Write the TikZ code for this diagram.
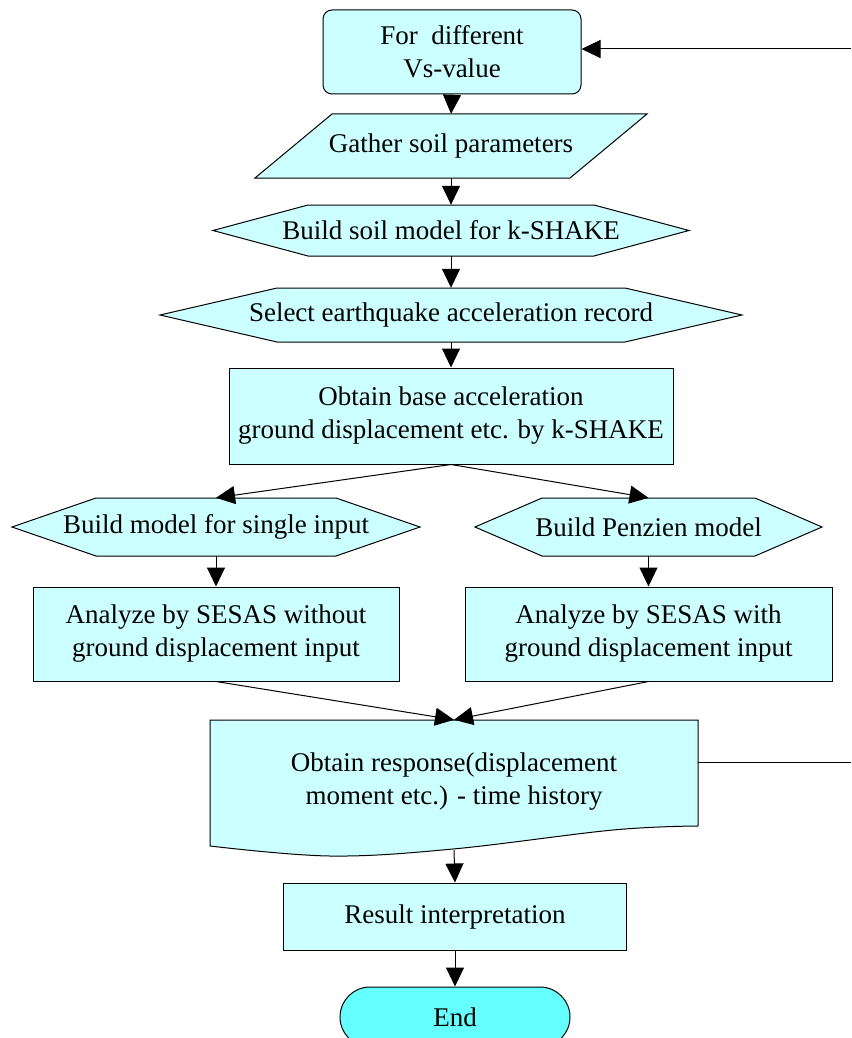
\documentclass[tikz,border=0pt]{standalone}
\usepackage{fontspec}
\setmainfont{Liberation Serif}
\usetikzlibrary{arrows.meta,calc}
\definecolor{boxfill}{RGB}{204,255,255}
\definecolor{endfill}{RGB}{102,255,255}
\tikzset{
  flow/.style={draw=black, line width=1pt, fill=boxfill},
  txt/.style={font=\fontsize{27}{33}\selectfont, align=center, inner sep=0pt},
  conn/.style={line width=1pt, -{Triangle[length=19pt,width=18pt]}},
  plain/.style={line width=1pt},
  frame/.style={draw=none, fill=none, inner sep=0pt}
}
\begin{document}
\begin{tikzpicture}[x=1pt,y=-1pt]
\useasboundingbox (0,0) rectangle (851,1038);

% start box
\node[flow, txt, rounded corners=9pt, minimum width=258pt, minimum height=84pt] (start) at (452,52) {For\ \ different\\Vs-value};

% parallelogram
\draw[flow] (332,114) -- (647,114) -- (570,178) -- (255,178) -- cycle;
\node[frame, txt, minimum width=300pt, minimum height=64pt] (gather) at (451,146) {Gather soil parameters};

% hexagon 1
\draw[flow] (213,230.5) -- (308,205) -- (594,205) -- (689,230.5) -- (594,256) -- (308,256) -- cycle;
\node[frame, txt, minimum width=470pt, minimum height=51pt] (soil) at (451,230.5) {Build soil model for k-SHAKE};

% hexagon 2
\draw[flow] (160,315) -- (277,288) -- (625,288) -- (742,315) -- (625,342) -- (277,342) -- cycle;
\node[frame, txt, minimum width=580pt, minimum height=54pt] (quake) at (451,315) {Select earthquake acceleration record};

% base acceleration box
\node[flow, txt, minimum width=444pt, minimum height=96pt] (base) at (451,416) {Obtain base acceleration\\ground displacement etc. by k-SHAKE};

% left hexagon
\draw[flow] (12,527) -- (96,498) -- (336,498) -- (420,527) -- (336,556) -- (96,556) -- cycle;
\node[frame, txt, minimum width=400pt, minimum height=58pt] (single) at (216,527) {Build model for single input};

% right hexagon
\draw[flow] (475,527) -- (542,498) -- (755,498) -- (822,527) -- (755,556) -- (542,556) -- cycle;
\node[frame, txt, minimum width=340pt, minimum height=58pt] (penzien) at (648.5,527) {Build Penzien model};

% analyze boxes
\node[flow, txt, minimum width=366pt, minimum height=94pt] (without) at (216,634) {Analyze by SESAS without\\ground displacement input};
\node[flow, txt, minimum width=367pt, minimum height=94pt] (with) at (648.5,634) {Analyze by SESAS with\\ground displacement input};

% document shape
\draw[flow] (698,826) -- (698,720) -- (210,720) -- (210,846)
  plot[smooth, tension=0.6] coordinates {(210,846) (330,856) (453,849) (613,830) (698,826)};
\node[frame, minimum width=488pt, minimum height=130pt] (doc) at (454,785) {};
\node[txt] (doctext) at (454,782) {Obtain response(displacement\\moment etc.) - time history};

% result box
\node[flow, txt, minimum width=343pt, minimum height=67pt] (result) at (455,916.5) {Result interpretation};

% end
\node[flow, txt, fill=endfill, rounded corners=30pt, minimum width=230pt, minimum height=60pt] (end) at (455,1017) {End};

% connectors
\draw[conn] (start.south) -- (gather.north);
\draw[conn] (gather.south) -- (soil.north);
\draw[conn] (soil.south) -- (quake.north);
\draw[conn] (quake.south) -- (base.north);
\draw[conn] (base.south) -- (single.north);
\draw[conn] (base.south) -- (penzien.north);
\draw[conn] (single.south) -- (without.north);
\draw[conn] (penzien.south) -- (with.north);
\draw[conn] (without.south) -- (doc.north);
\draw[conn] (with.south) -- (doc.north);
\draw[conn] (doc.south) -- (result.north);
\draw[conn] (result.south) -- (end.north);

% feedback loop
\coordinate (fbR) at (851,762);
\coordinate (fbT) at (851,49);
\draw[plain] (fbR -| doc.east) -- (fbR);
\draw[conn] (fbT) -- (fbT -| start.east);
\end{tikzpicture}
\end{document}
